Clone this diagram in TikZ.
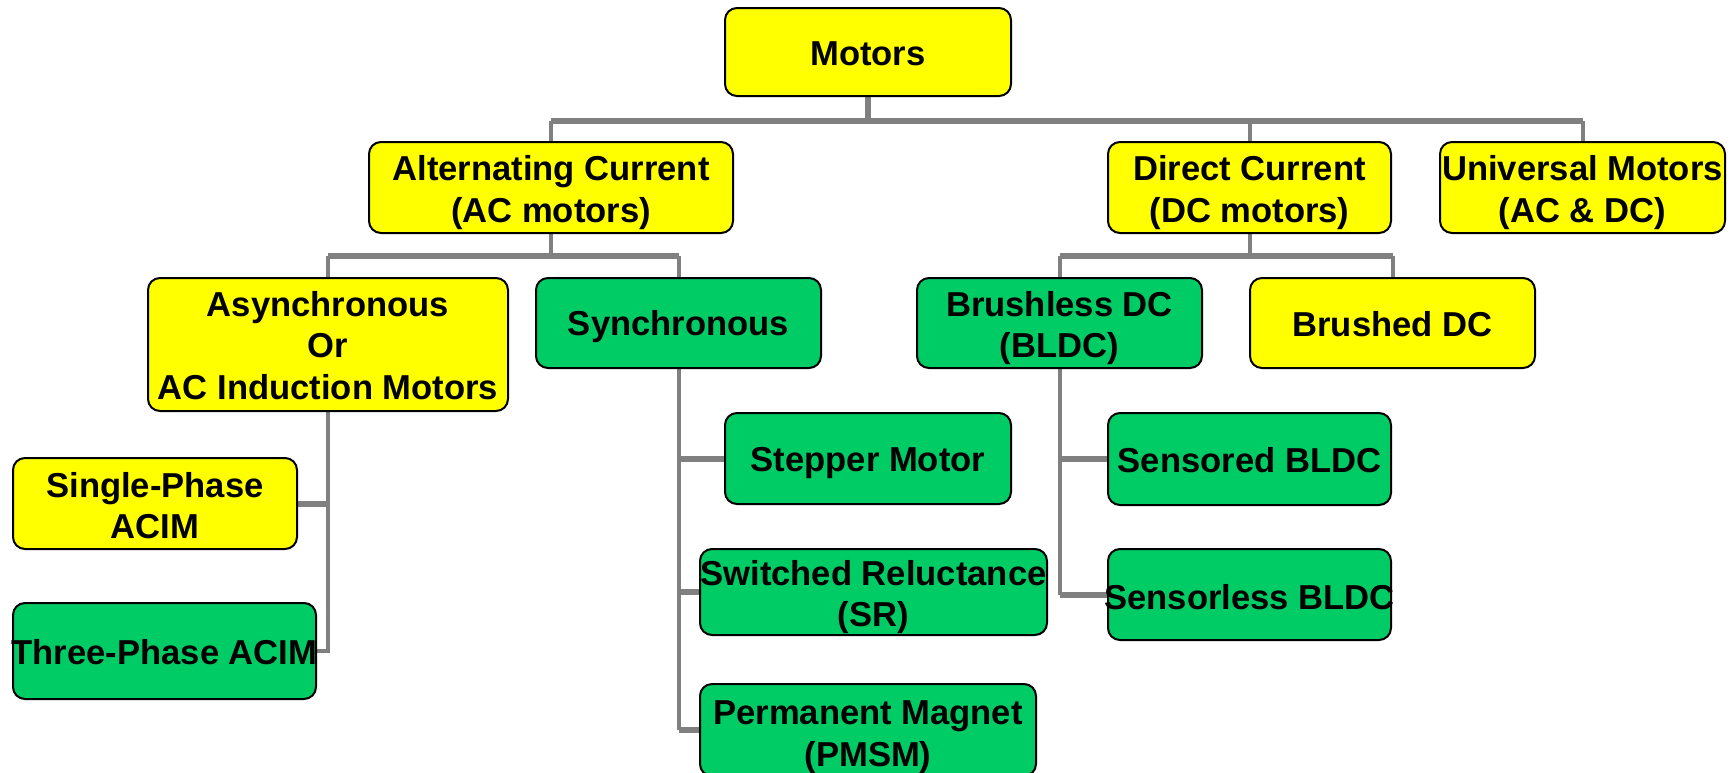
\documentclass[tikz,border=0pt]{standalone}
\usepackage{fontspec}
\setmainfont{Liberation Sans}
\usetikzlibrary{backgrounds}
\definecolor{boxyellow}{HTML}{FFFF00}
\definecolor{boxgreen}{HTML}{00CC66}
\definecolor{linegray}{HTML}{808080}
\tikzset{
  box/.style={draw=black, line width=2pt, rounded corners=12pt, inner sep=0pt},
  ybox/.style={box, fill=boxyellow},
  gbox/.style={box, fill=boxgreen},
  lbl/.style={align=center, inner sep=0pt, font=\fontsize{34.6}{41.5}\selectfont\bfseries},
  conn/.style={draw=linegray, line width=6pt},
  drop/.style={draw=linegray, line width=4pt},
}
\begin{document}
\begin{tikzpicture}[x=1pt, y=-1pt]
\useasboundingbox (0,0) rectangle (1734,772);
\node[ybox, minimum width=286pt, minimum height=88pt, label={[lbl, yshift=-2pt]center:Motors}] (motors) at (868,52) {};
\node[ybox, minimum width=364pt, minimum height=91pt, label={[lbl, yshift=-5pt]center:{Alternating Current\\(AC motors)}}] (ac) at (551,187.5) {};
\node[ybox, minimum width=283pt, minimum height=91pt, label={[lbl, yshift=-5pt]center:{Direct Current\\(DC motors)}}] (dc) at (1249.5,187.5) {};
\node[ybox, minimum width=285pt, minimum height=91pt, label={[lbl, yshift=-5pt]center:{Universal Motors\\(AC \& DC)}}] (univ) at (1582.5,187.5) {};
\node[ybox, minimum width=360pt, minimum height=133pt, label={[lbl, yshift=-1pt]center:{Asynchronous\\Or\\AC Induction Motors}}] (async) at (328,344.5) {};
\node[gbox, minimum width=285pt, minimum height=90pt, label={[lbl, yshift=-4pt]center:Synchronous}] (sync) at (678.5,323) {};
\node[gbox, minimum width=285pt, minimum height=90pt, label={[lbl, yshift=-5pt]center:{Brushless DC\\(BLDC)}}] (bldc) at (1059.5,323) {};
\node[ybox, minimum width=285pt, minimum height=90pt, label={[lbl, yshift=-1pt]center:Brushed DC}] (brushed) at (1392.5,323) {};
\node[ybox, minimum width=284pt, minimum height=91pt, label={[lbl, yshift=-2pt]center:{Single-Phase\\ACIM}}] (single) at (155,503.5) {};
\node[gbox, minimum width=303pt, minimum height=96pt, label={[lbl, yshift=-1pt]center:Three-Phase ACIM}] (three) at (164.5,651) {};
\node[gbox, minimum width=286pt, minimum height=91pt, label={[lbl, yshift=-4pt]center:Stepper Motor}] (stepper) at (868,458.5) {};
\node[gbox, minimum width=347pt, minimum height=86pt, label={[lbl, yshift=-5pt]center:{Switched Reluctance\\(SR)}}] (sr) at (873.5,592) {};
\node[gbox, minimum width=336pt, minimum height=92pt, label={[lbl, yshift=-7pt]center:{Permanent Magnet\\(PMSM)}}] (pmsm) at (868,730) {};
\node[gbox, minimum width=283pt, minimum height=92pt, label={[lbl, yshift=-1pt]center:Sensored BLDC}] (sensored) at (1249.5,459) {};
\node[gbox, minimum width=283pt, minimum height=91pt, label={[lbl, yshift=-3pt]center:Sensorless BLDC}] (sensorless) at (1249.5,594.5) {};
\coordinate (b1) at (868,121);
\coordinate (b2) at (551,256);
\coordinate (b3) at (1249.5,256);
\begin{scope}[on background layer]
\draw[conn] (motors.south) -- (b1);
\draw[conn] (ac.north |- b1) -- (univ.north |- b1);
\draw[drop] (b1 -| ac.north) -- (ac.north);
\draw[drop] (b1 -| dc.north) -- (dc.north);
\draw[drop] (b1 -| univ.north) -- (univ.north);
\draw[drop] (ac.south) -- (b2);
\draw[conn] (async.north |- b2) -- (sync.north |- b2);
\draw[drop] (b2 -| async.north) -- (async.north);
\draw[drop] (b2 -| sync.north) -- (sync.north);
\draw[drop] (dc.south) -- (b3);
\draw[conn] (bldc.north |- b3) -- (brushed.north |- b3);
\draw[drop] (b3 -| bldc.north) -- (bldc.north);
\draw[drop] (b3 -| brushed.north) -- (brushed.north);
\draw[drop] (async.south) -- (async.south |- three.east) -- (three.east);
\draw[conn] (single.east) -- (single.east -| async.south);
\draw[drop] (sync.south) -- (sync.south |- pmsm.west);
\draw[conn] (stepper.west) -- (stepper.west -| sync.south);
\draw[conn] (sr.west) -- (sr.west -| sync.south);
\draw[conn] (pmsm.west) -- (pmsm.west -| sync.south);
\draw[drop] (bldc.south) -- (bldc.south |- sensorless.west);
\draw[conn] (sensored.west) -- (sensored.west -| bldc.south);
\draw[conn] (sensorless.west) -- (sensorless.west -| bldc.south);
\end{scope}
\end{tikzpicture}
\end{document}
